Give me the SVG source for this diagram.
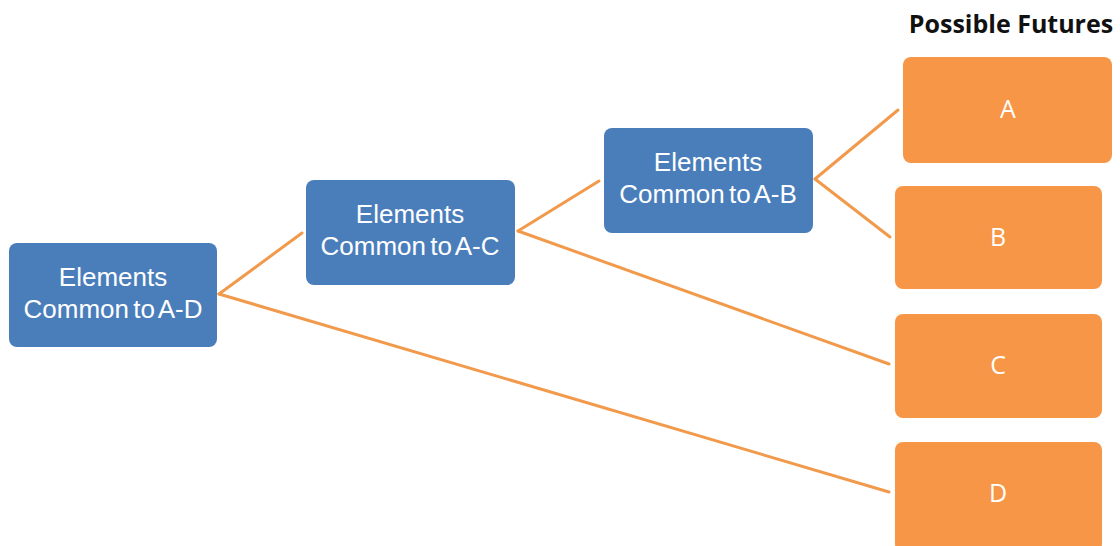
<svg xmlns="http://www.w3.org/2000/svg" width="1120" height="546" viewBox="0 0 1120 546">
<style>
.blue{fill:#4a7ebb;}
.orange{fill:#f79646;}
.lbl{font-family:"Liberation Sans","Open Sans",sans-serif;font-size:26px;fill:#ffffff;text-anchor:middle;word-spacing:-3px;}
.fut{font-family:"Open Sans","Liberation Sans",sans-serif;font-size:25px;fill:#ffffff;text-anchor:middle;}
.title{font-family:"Open Sans","Liberation Sans",sans-serif;font-size:25px;font-weight:bold;fill:#111111;text-anchor:middle;}
.conn{stroke:#f29a4c;stroke-width:3;fill:none;stroke-linecap:round;}
</style>
<rect width="1120" height="546" fill="#ffffff"/>
<g id="connectors">
<line class="conn" x1="219" y1="294" x2="302" y2="233"/>
<line class="conn" x1="219" y1="294" x2="889" y2="492"/>
<line class="conn" x1="518" y1="231" x2="599" y2="181"/>
<line class="conn" x1="518" y1="231" x2="889" y2="364"/>
<line class="conn" x1="815" y1="179" x2="898" y2="110"/>
<line class="conn" x1="815" y1="179" x2="890" y2="237"/>
</g>
<g id="title"><text class="title" x="1011" y="33">Possible Futures</text></g>
<g id="node-ad">
<rect class="blue" x="9" y="243" width="208" height="104" rx="8"/>
<text class="lbl" x="113" y="286">Elements</text>
<text class="lbl" x="113" y="318">Common to A-D</text>
</g>
<g id="node-ac">
<rect class="blue" x="306" y="180" width="209" height="105" rx="8"/>
<text class="lbl" x="410" y="223">Elements</text>
<text class="lbl" x="410" y="255">Common to A-C</text>
</g>
<g id="node-ab">
<rect class="blue" x="604" y="128" width="209" height="105" rx="8"/>
<text class="lbl" x="708" y="171">Elements</text>
<text class="lbl" x="708" y="203">Common to A-B</text>
</g>
<g id="node-a">
<rect class="orange" x="903" y="57" width="209" height="106" rx="8"/>
<text class="fut" x="1008" y="118">A</text>
</g>
<g id="node-b">
<rect class="orange" x="895" y="186" width="207" height="103" rx="8"/>
<text class="fut" x="998" y="246">B</text>
</g>
<g id="node-c">
<rect class="orange" x="895" y="314" width="207" height="104" rx="8"/>
<text class="fut" x="998" y="374">C</text>
</g>
<g id="node-d">
<rect class="orange" x="895" y="442" width="207" height="110" rx="8"/>
<text class="fut" x="998" y="502">D</text>
</g>
</svg>
